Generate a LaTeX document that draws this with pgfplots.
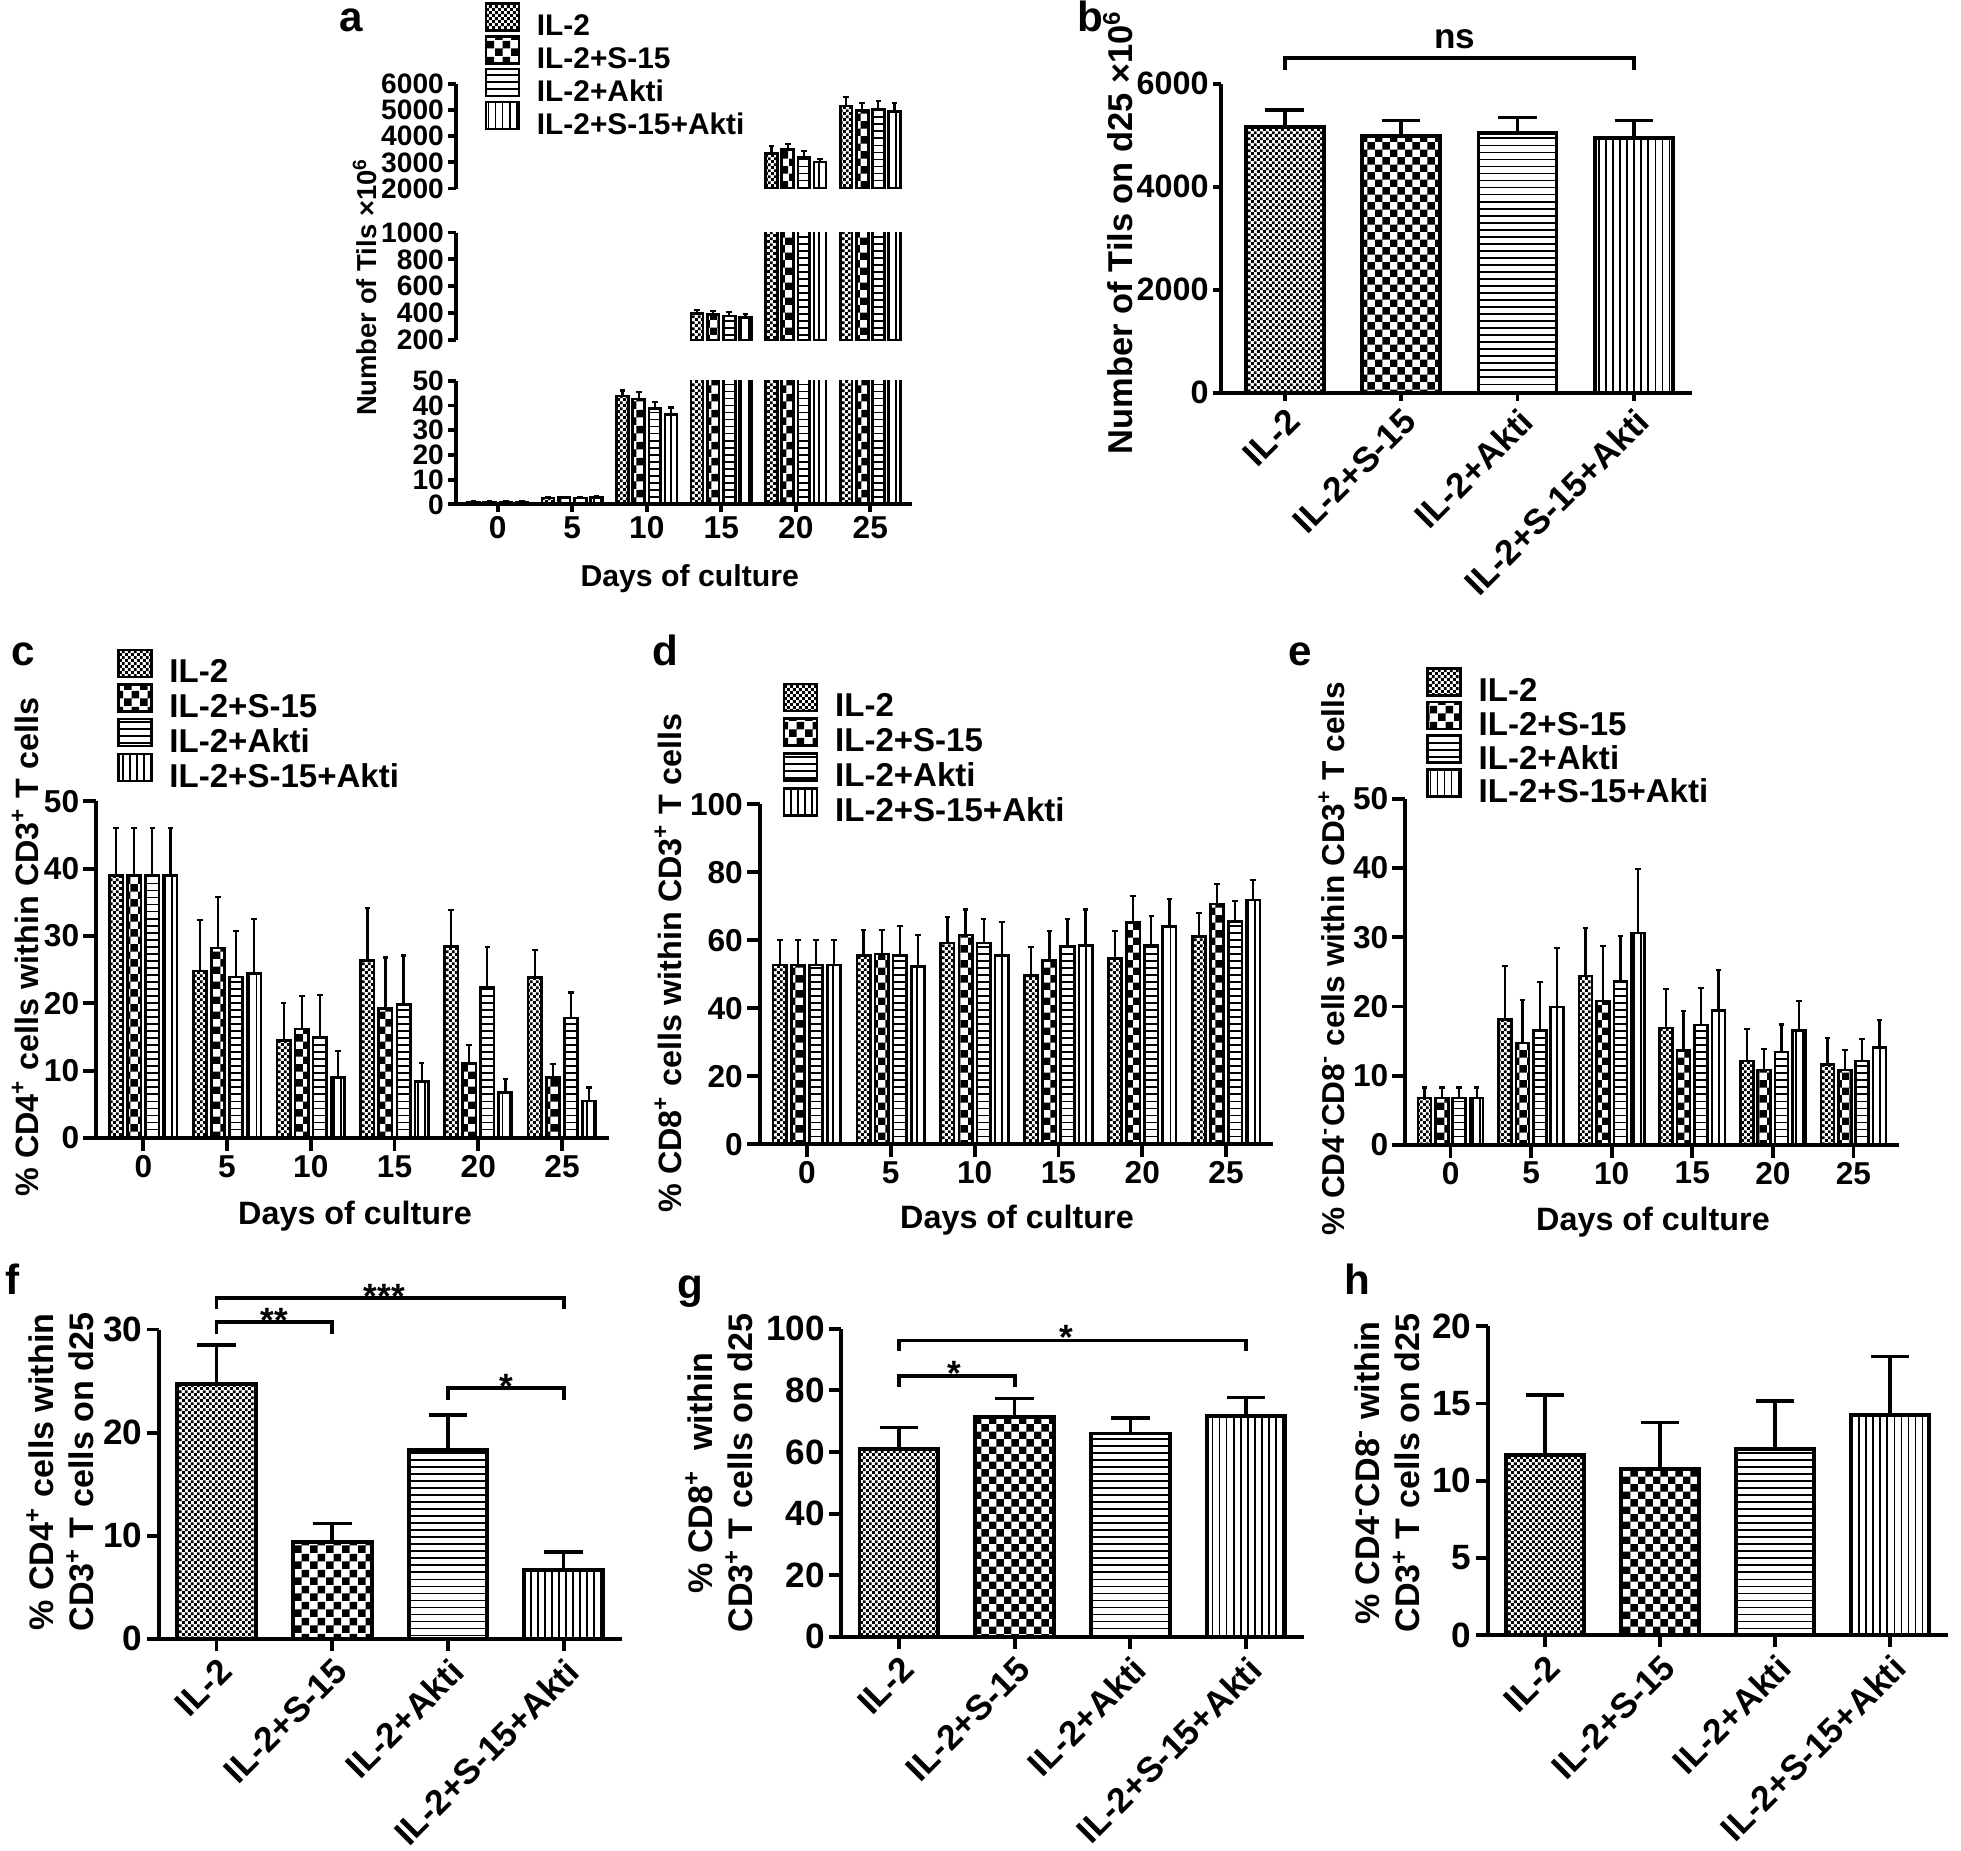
\documentclass[border=0pt]{standalone}
\usepackage{fontspec}
\setmainfont{Liberation Sans}
\usepackage{pgfplots}
\pgfplotsset{compat=1.18}
\usepackage{pgfplotstable}
\usetikzlibrary{patterns}

% fill patterns of the four groups
\pgfdeclarepatternformonly{finecheck}{\pgfpointorigin}{\pgfqpoint{1.8pt}{1.8pt}}{\pgfqpoint{1.8pt}{1.8pt}}{%
  \pgfpathrectangle{\pgfpointorigin}{\pgfqpoint{0.9pt}{0.9pt}}%
  \pgfpathrectangle{\pgfqpoint{0.9pt}{0.9pt}}{\pgfqpoint{0.9pt}{0.9pt}}%
  \pgfusepath{fill}}
\pgfdeclarepatternformonly{bigcheck}{\pgfpointorigin}{\pgfqpoint{4.4pt}{4.4pt}}{\pgfqpoint{4.4pt}{4.4pt}}{%
  \pgfpathrectangle{\pgfpointorigin}{\pgfqpoint{2.2pt}{2.2pt}}%
  \pgfpathrectangle{\pgfqpoint{2.2pt}{2.2pt}}{\pgfqpoint{2.2pt}{2.2pt}}%
  \pgfusepath{fill}}
\pgfdeclarepatternformonly{hlin}{\pgfqpoint{-0.1pt}{-0.1pt}}{\pgfqpoint{2.1pt}{2.1pt}}{\pgfqpoint{2pt}{2pt}}{%
  \pgfpathrectangle{\pgfqpoint{-0.1pt}{0.75pt}}{\pgfqpoint{2.2pt}{0.5pt}}%
  \pgfusepath{fill}}
\pgfdeclarepatternformonly{vlin}{\pgfqpoint{-0.1pt}{-0.1pt}}{\pgfqpoint{2.1pt}{2.1pt}}{\pgfqpoint{2pt}{2pt}}{%
  \pgfpathrectangle{\pgfqpoint{0.75pt}{-0.1pt}}{\pgfqpoint{0.5pt}{2.2pt}}%
  \pgfusepath{fill}}

\newcommand{\fs}[1]{\fontsize{#1}{#1}\selectfont\bfseries}

\pgfplotsset{
  gp/.style={scale only axis, anchor=south west, ybar,
    axis x line*=bottom, axis y line*=left,
    axis line style={-, line width=1.1pt}, x axis line style={-}, y axis line style={-},
    tick style={line width=1.1pt, black}, major tick length=0.12cm, tick align=outside,
    tick label style={inner sep=1pt},
    /pgf/number format/assume math mode=true, /pgf/number format/1000 sep={},
    scaled y ticks=false,
    every axis plot/.append style={line width=0.75pt},
    error bars/y dir=plus, error bars/y explicit,
    error bars/error bar style={line width=0.65pt, black, solid}},
  grp/.style={xmin=-2.8, xmax=27.8, xtick={0,5,...,25}, bar width=0.8,
    error bars/error mark options={rotate=90, black, line width=0.6pt, mark size=0.8pt}},
  cat/.style={xmin=-0.5, xmax=3.5, xtick={0,1,2,3}, bar width=0.68, clip=false,
    every axis plot/.append style={line width=1.1pt},
    xticklabels={IL-2,IL-2+S-15,IL-2+Akti,IL-2+S-15+Akti},
    xticklabel style={font=\fs{10}, rotate=45, anchor=north east, inner sep=1pt},
    yticklabel style={font=\fs{10}},
    error bars/error bar style={line width=1pt, black, solid},
    error bars/error mark options={rotate=90, black, line width=1pt, mark size=5.5pt}},
  leg/.style={legend cell align=left,
    legend style={draw=none, fill=none, inner sep=0pt, font=\fs{#1},
      row sep=-1.9pt, column sep=0.15cm, nodes={inner sep=0.5pt}}},
  lbox/.style={legend image code/.code={\draw[##1] (0cm,-0.03cm) rectangle (0.33cm,0.24cm);}},
  p1/.style={draw=black, pattern=finecheck, lbox},
  p2/.style={draw=black, pattern=bigcheck, lbox},
  p3/.style={draw=black, pattern=hlin, lbox},
  p4/.style={draw=black, pattern=vlin, lbox},
}

% a: number of TILs by day (x = day, y = mean, e = upper SD)
\pgfplotstableread{
x y e
0 1.0 0.3
5 2.6 0.4
10 43.8 2.3
15 398 28
20 3333 280
25 5160 330
}\aIL
\pgfplotstableread{
x y e
0 1.0 0.3
5 2.7 0.4
10 42.7 2.6
15 392 26
20 3486 230
25 4980 300
}\aS
\pgfplotstableread{
x y e
0 1.0 0.3
5 2.6 0.4
10 38.7 2.8
15 378 28
20 3181 250
25 5040 300
}\aK
\pgfplotstableread{
x y e
0 1.0 0.3
5 2.8 0.4
10 36.5 2.7
15 366 28
20 3016 130
25 4945 335
}\aSK

% c: % CD4+
\pgfplotstableread{
x y e
0 39 7
5 24.8 7.6
10 14.5 5.5
15 26.4 7.8
20 28.4 5.5
25 23.8 4.1
}\cIL
\pgfplotstableread{
x y e
0 39 7
5 28.2 7.6
10 16.2 4.9
15 19.2 7.6
20 11.1 2.7
25 9.0 2.0
}\cS
\pgfplotstableread{
x y e
0 39 7
5 23.9 6.9
10 15.0 6.3
15 19.8 7.3
20 22.3 6.1
25 17.8 3.8
}\cK
\pgfplotstableread{
x y e
0 39 7
5 24.4 8.1
10 9.0 3.9
15 8.4 2.7
20 6.8 2.0
25 5.5 2.0
}\cSK

% d: % CD8+
\pgfplotstableread{
x y e
0 52.7 7.3
5 55.4 7.7
10 59.2 7.6
15 49.6 8.4
20 54.6 8.0
25 61.0 7.0
}\dIL
\pgfplotstableread{
x y e
0 52.7 7.3
5 55.9 7.2
10 61.5 7.5
15 54.1 8.5
20 65.1 7.8
25 70.6 6.0
}\dS
\pgfplotstableread{
x y e
0 52.7 7.3
5 55.4 8.7
10 59.2 7.1
15 58.2 8.1
20 58.6 8.4
25 65.5 6.0
}\dK
\pgfplotstableread{
x y e
0 52.7 7.3
5 52.2 9.3
10 55.4 10.0
15 58.5 10.5
20 64.0 8.1
25 71.8 6.0
}\dSK

% e: % CD4-CD8-
\pgfplotstableread{
x y e
0 6.8 1.5
5 18.1 7.7
10 24.4 6.9
15 16.9 5.6
20 12.1 4.7
25 11.6 3.9
}\eIL
\pgfplotstableread{
x y e
0 6.8 1.5
5 14.7 6.3
10 20.8 7.9
15 13.6 5.8
20 10.8 3.1
25 10.8 2.9
}\eS
\pgfplotstableread{
x y e
0 6.8 1.5
5 16.6 7.0
10 23.6 6.6
15 17.3 5.4
20 13.4 4.0
25 12.1 3.2
}\eK
\pgfplotstableread{
x y e
0 6.8 1.5
5 19.9 8.6
10 30.6 9.3
15 19.4 5.9
20 16.5 4.3
25 14.1 4.0
}\eSK

\begin{document}
\begin{tikzpicture}
\path[use as bounding box] (0,0) rectangle (19.61,-18.5);

% ---------- a (broken y axis: three segments) ----------
\begin{axis}[gp, grp, at={(4.56cm,-5.044cm)}, width=4.56cm, height=1.236cm,
  major tick length=0.08cm,
  ymin=0, ymax=50, ytick={0,10,...,50}, yticklabel style={font=\fs{8}}, xticklabel style={font=\fs{9}}]
\addplot[p1, bar shift=-1.62] table[x=x, y=y, y error=e]{\aIL};
\addplot[p2, bar shift=-0.54] table[x=x, y=y, y error=e]{\aS};
\addplot[p3, bar shift=0.54] table[x=x, y=y, y error=e]{\aK};
\addplot[p4, bar shift=1.62] table[x=x, y=y, y error=e]{\aSK};
\end{axis}
\begin{axis}[gp, grp, axis x line=none, at={(4.56cm,-3.40cm)}, width=4.56cm, height=1.075cm,
  major tick length=0.08cm, restrict y to domain=200:100000,
  ymin=200, ymax=1000, ytick={200,400,...,1000}, yticklabel style={font=\fs{8}}]
\addplot[p1, bar shift=-1.62] table[x=x, y=y, y error=e]{\aIL};
\addplot[p2, bar shift=-0.54] table[x=x, y=y, y error=e]{\aS};
\addplot[p3, bar shift=0.54] table[x=x, y=y, y error=e]{\aK};
\addplot[p4, bar shift=1.62] table[x=x, y=y, y error=e]{\aSK};
\end{axis}
\begin{axis}[gp, grp, axis x line=none, at={(4.56cm,-1.885cm)}, width=4.56cm, height=1.045cm,
  major tick length=0.08cm, restrict y to domain=2000:100000,
  ymin=2000, ymax=6000, ytick={2000,3000,...,6000}, yticklabel style={font=\fs{8}},
  leg=8.5, legend style={at={(0.061,1.79)}, anchor=north west, row sep=-2.1pt}]
\addplot[p1, bar shift=-1.62] table[x=x, y=y, y error=e]{\aIL};
\addlegendentry{IL-2}
\addplot[p2, bar shift=-0.54] table[x=x, y=y, y error=e]{\aS};
\addlegendentry{IL-2+S-15}
\addplot[p3, bar shift=0.54] table[x=x, y=y, y error=e]{\aK};
\addlegendentry{IL-2+Akti}
\addplot[p4, bar shift=1.62] table[x=x, y=y, y error=e]{\aSK};
\addlegendentry{IL-2+S-15+Akti}
\end{axis}

% ---------- b ----------
\begin{axis}[gp, cat, at={(12.208cm,-3.928cm)}, width=4.712cm, height=3.092cm,
  major tick length=0.08cm, yticklabel style={font=\fs{9.2}},
  xmin=-0.55, ymin=0, ymax=6000, ytick={0,2000,4000,6000}, bar width=0.67]
\addplot[p1, bar shift=0pt] coordinates {(0,5160) +- (0,330)};
\addplot[p2, bar shift=0pt] coordinates {(1,4980) +- (0,300)};
\addplot[p3, bar shift=0pt] coordinates {(2,5040) +- (0,300)};
\addplot[p4, bar shift=0pt] coordinates {(3,4945) +- (0,335)};
\draw[line width=1.1pt] (axis cs:0,6260) -- (axis cs:0,6497) -- (axis cs:3,6497) -- (axis cs:3,6260);
\node[font=\fs{10}, anchor=base, yshift=0.1cm] at (axis cs:1.46,6497) {ns};
\end{axis}

% ---------- c ----------
\begin{axis}[gp, grp, at={(0.964cm,-11.38cm)}, width=5.125cm, height=3.368cm,
  major tick length=0.13cm,
  ymin=0, ymax=50, ytick={0,10,...,50}, tick label style={font=\fs{9}},
  leg=9.4, legend style={at={(0.039,1.455)}, anchor=north west}]
\addplot[p1, bar shift=-1.62] table[x=x, y=y, y error=e]{\cIL};
\addlegendentry{IL-2}
\addplot[p2, bar shift=-0.54] table[x=x, y=y, y error=e]{\cS};
\addlegendentry{IL-2+S-15}
\addplot[p3, bar shift=0.54] table[x=x, y=y, y error=e]{\cK};
\addlegendentry{IL-2+Akti}
\addplot[p4, bar shift=1.62] table[x=x, y=y, y error=e]{\cSK};
\addlegendentry{IL-2+S-15+Akti}
\end{axis}

% ---------- d ----------
\begin{axis}[gp, grp, at={(7.60cm,-11.441cm)}, width=5.13cm, height=3.40cm,
  major tick length=0.13cm,
  ymin=0, ymax=100, ytick={0,20,...,100}, tick label style={font=\fs{9}},
  leg=9.4, legend style={at={(0.043,1.359)}, anchor=north west}]
\addplot[p1, bar shift=-1.62] table[x=x, y=y, y error=e]{\dIL};
\addlegendentry{IL-2}
\addplot[p2, bar shift=-0.54] table[x=x, y=y, y error=e]{\dS};
\addlegendentry{IL-2+S-15}
\addplot[p3, bar shift=0.54] table[x=x, y=y, y error=e]{\dK};
\addlegendentry{IL-2+Akti}
\addplot[p4, bar shift=1.62] table[x=x, y=y, y error=e]{\dSK};
\addlegendentry{IL-2+S-15+Akti}
\end{axis}

% ---------- e ----------
\begin{axis}[gp, grp, at={(14.054cm,-11.449cm)}, width=4.932cm, height=3.461cm,
  major tick length=0.13cm,
  ymin=0, ymax=50, ytick={0,10,...,50}, tick label style={font=\fs{9}},
  leg=9.4, legend style={at={(0.041,1.382)}, anchor=north west, row sep=-2.2pt}]
\addplot[p1, bar shift=-1.62] table[x=x, y=y, y error=e]{\eIL};
\addlegendentry{IL-2}
\addplot[p2, bar shift=-0.54] table[x=x, y=y, y error=e]{\eS};
\addlegendentry{IL-2+S-15}
\addplot[p3, bar shift=0.54] table[x=x, y=y, y error=e]{\eK};
\addlegendentry{IL-2+Akti}
\addplot[p4, bar shift=1.62] table[x=x, y=y, y error=e]{\eSK};
\addlegendentry{IL-2+S-15+Akti}
\end{axis}

% ---------- f ----------
\begin{axis}[gp, cat, at={(1.586cm,-16.388cm)}, width=4.63cm, height=3.093cm,
  ymin=0, ymax=30, ytick={0,10,20,30}]
\addplot[p1, bar shift=0pt] coordinates {(0,24.7) +- (0,3.8)};
\addplot[p2, bar shift=0pt] coordinates {(1,9.4) +- (0,1.8)};
\addplot[p3, bar shift=0pt] coordinates {(2,18.3) +- (0,3.4)};
\addplot[p4, bar shift=0pt] coordinates {(3,6.7) +- (0,1.7)};
\draw[line width=1.1pt] (axis cs:0,29.6) -- (axis cs:0,30.76) -- (axis cs:1,30.76) -- (axis cs:1,29.6);
\node[font=\fs{10}, anchor=base, yshift=-0.11cm] at (axis cs:0.5,30.76) {**};
\draw[line width=1.1pt] (axis cs:0,32.0) -- (axis cs:0,33.1) -- (axis cs:3,33.1) -- (axis cs:3,32.0);
\node[font=\fs{10}, anchor=base, yshift=-0.11cm] at (axis cs:1.45,33.1) {***};
\draw[line width=1.1pt] (axis cs:2,23.2) -- (axis cs:2,24.35) -- (axis cs:3,24.35) -- (axis cs:3,23.2);
\node[font=\fs{10}, anchor=base, yshift=-0.11cm] at (axis cs:2.5,24.35) {*};
\end{axis}

% ---------- g ----------
\begin{axis}[gp, cat, at={(8.41cm,-16.368cm)}, width=4.63cm, height=3.081cm,
  ymin=0, ymax=100, ytick={0,20,...,100}]
\addplot[p1, bar shift=0pt] coordinates {(0,60.9) +- (0,7.0)};
\addplot[p2, bar shift=0pt] coordinates {(1,71.3) +- (0,6.0)};
\addplot[p3, bar shift=0pt] coordinates {(2,66.0) +- (0,5.1)};
\addplot[p4, bar shift=0pt] coordinates {(3,71.7) +- (0,6.0)};
\draw[line width=1.1pt] (axis cs:0,81.1) -- (axis cs:0,84.6) -- (axis cs:1,84.6) -- (axis cs:1,81.1);
\node[font=\fs{10}, anchor=base, yshift=-0.09cm] at (axis cs:0.48,84.6) {*};
\draw[line width=1.1pt] (axis cs:0,92.8) -- (axis cs:0,96.2) -- (axis cs:3,96.2) -- (axis cs:3,92.8);
\node[font=\fs{10}, anchor=base, yshift=-0.09cm] at (axis cs:1.45,96.2) {*};
\end{axis}

% ---------- h ----------
\begin{axis}[gp, cat, at={(14.876cm,-16.349cm)}, width=4.60cm, height=3.085cm,
  ymin=0, ymax=20, ytick={0,5,...,20}]
\addplot[p1, bar shift=0pt] coordinates {(0,11.65) +- (0,3.9)};
\addplot[p2, bar shift=0pt] coordinates {(1,10.77) +- (0,3.0)};
\addplot[p3, bar shift=0pt] coordinates {(2,12.06) +- (0,3.1)};
\addplot[p4, bar shift=0pt] coordinates {(3,14.25) +- (0,3.8)};
\end{axis}

% axis titles
\node[rotate=90, font=\fs{7.8}] at (3.645,-2.87) {Number of Tils ×10\textsuperscript{6}};
\node[font=\fs{8.6}, anchor=base] at (6.897,-5.86) {Days of culture};
\node[rotate=90, font=\fs{9.8}] at (11.18,-2.32) {Number of Tils on d25 ×10\textsuperscript{6}};
\node[rotate=90, font=\fs{9.2}] at (0.254,-9.47) {\% CD4\textsuperscript{+} cells within CD3\textsuperscript{+} T cells};
\node[font=\fs{9.2}, anchor=base] at (3.55,-12.24) {Days of culture};
\node[rotate=90, font=\fs{9.2}] at (6.682,-9.63) {\% CD8\textsuperscript{+} cells within CD3\textsuperscript{+} T cells};
\node[font=\fs{9.2}, anchor=base] at (10.17,-12.28) {Days of culture};
\node[rotate=90, font=\fs{9}] at (13.316,-9.59) {\% CD4\textsuperscript{-}CD8\textsuperscript{-} cells within CD3\textsuperscript{+} T cells};
\node[font=\fs{9.2}, anchor=base] at (16.53,-12.30) {Days of culture};
\node[rotate=90, align=center, font=\fontsize{9.7}{11.4}\selectfont\bfseries] at (0.60,-14.72)
  {\% CD4\textsuperscript{+} cells within\\CD3\textsuperscript{+} T cells on d25};
\node[rotate=90, align=center, font=\fontsize{9.7}{11.4}\selectfont\bfseries] at (7.19,-14.73)
  {\% CD8\textsuperscript{+} \ within\\CD3\textsuperscript{+} T cells on d25};
\node[rotate=90, align=center, font=\fontsize{9.7}{11.4}\selectfont\bfseries] at (13.875,-14.73)
  {\% CD4\textsuperscript{-}CD8\textsuperscript{-} within\\CD3\textsuperscript{+} T cells on d25};

% panel letters
\node[font=\fs{12}, anchor=base] at (3.51,-0.31) {a};
\node[font=\fs{12}, anchor=base] at (10.90,-0.31) {b};
\node[font=\fs{12}, anchor=base] at (0.23,-6.65) {c};
\node[font=\fs{12}, anchor=base] at (6.65,-6.65) {d};
\node[font=\fs{12}, anchor=base] at (13.00,-6.65) {e};
\node[font=\fs{12}, anchor=base] at (0.127,-12.945) {f};
\node[font=\fs{12}, anchor=base] at (6.90,-12.98) {g};
\node[font=\fs{12}, anchor=base] at (13.57,-12.945) {h};
\end{tikzpicture}
\end{document}
